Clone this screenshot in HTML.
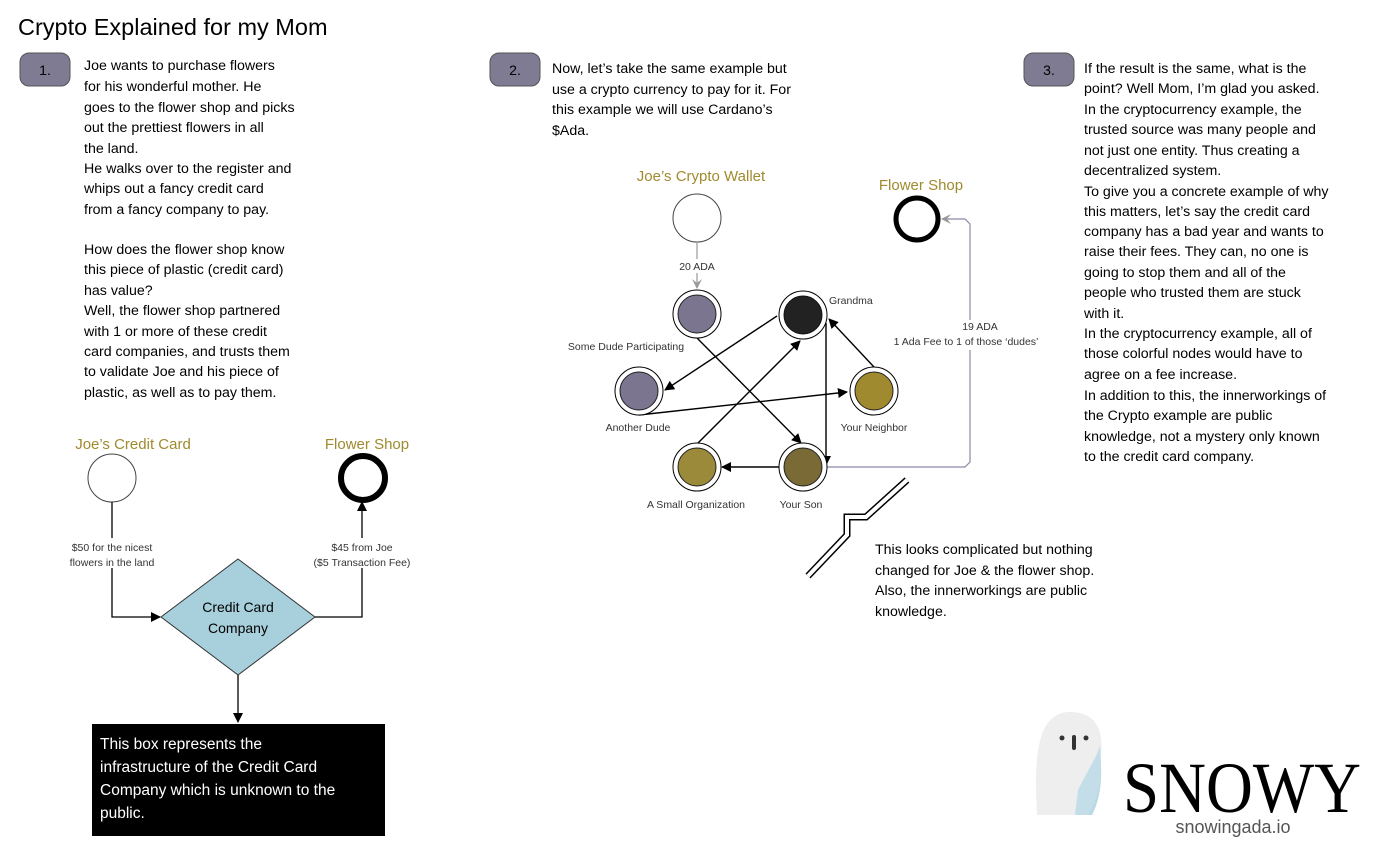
<!DOCTYPE html>
<html><head><meta charset="utf-8"><style>
html,body{margin:0;padding:0;background:#fff;}
svg{display:block;font-family:"Liberation Sans",sans-serif;}
.t{font-size:14.2px;fill:#000;}
.s{font-size:10.5px;fill:#333;}
.g{font-size:15px;fill:#a08a2e;}
</style></head><body>
<svg width="1400" height="848" viewBox="0 0 1400 848">
<defs>
<marker id="ab" markerWidth="10" markerHeight="10" refX="9" refY="5" orient="auto" markerUnits="userSpaceOnUse"><path d="M0,0 L10,5 L0,10 z" fill="#000"/></marker>
<marker id="ag" markerWidth="10" markerHeight="10" refX="9" refY="5" orient="auto" markerUnits="userSpaceOnUse"><path d="M0,0 L10,5 L0,10 L4,5 z" fill="#999"/></marker>
</defs>
<text x="18" y="35" font-size="23.5">Crypto Explained for my Mom</text>

<g><rect x="20" y="53" width="50" height="33" rx="9" fill="#7f7b92" stroke="#555"/><text x="45" y="75" text-anchor="middle" font-size="14">1.</text></g>
<g><rect x="490" y="53" width="50" height="33" rx="9" fill="#7f7b92" stroke="#555"/><text x="515" y="75" text-anchor="middle" font-size="14">2.</text></g>
<g><rect x="1024" y="53" width="50" height="33" rx="9" fill="#7f7b92" stroke="#555"/><text x="1049" y="75" text-anchor="middle" font-size="14">3.</text></g>

<g class="t">
<text x="84" y="70">Joe wants to purchase flowers</text>
<text x="84" y="91">for his wonderful mother. He</text>
<text x="84" y="112">goes to the flower shop and picks</text>
<text x="84" y="132">out the prettiest flowers in all</text>
<text x="84" y="153">the land.</text>
<text x="84" y="173">He walks over to the register and</text>
<text x="84" y="193">whips out a fancy credit card</text>
<text x="84" y="214">from a fancy company to pay.</text>
<text x="84" y="254">How does the flower shop know</text>
<text x="84" y="274">this piece of plastic (credit card)</text>
<text x="84" y="295">has value?</text>
<text x="84" y="315">Well, the flower shop partnered</text>
<text x="84" y="336">with 1 or more of these credit</text>
<text x="84" y="356">card companies, and trusts them</text>
<text x="84" y="376">to validate Joe and his piece of</text>
<text x="84" y="397">plastic, as well as to pay them.</text>
</g>
<g class="t">
<text x="552" y="73">Now, let’s take the same example but</text>
<text x="552" y="94">use a crypto currency to pay for it. For</text>
<text x="552" y="114">this example we will use Cardano’s</text>
<text x="552" y="135">$Ada.</text>
</g>
<g class="t">
<text x="1084" y="73">If the result is the same, what is the</text>
<text x="1084" y="93">point? Well Mom, I’m glad you asked.</text>
<text x="1084" y="114">In the cryptocurrency example, the</text>
<text x="1084" y="134">trusted source was many people and</text>
<text x="1084" y="155">not just one entity. Thus creating a</text>
<text x="1084" y="175">decentralized system.</text>
<text x="1084" y="196">To give you a concrete example of why</text>
<text x="1084" y="216">this matters, let’s say the credit card</text>
<text x="1084" y="236">company has a bad year and wants to</text>
<text x="1084" y="256">raise their fees. They can, no one is</text>
<text x="1084" y="277">going to stop them and all of the</text>
<text x="1084" y="297">people who trusted them are stuck</text>
<text x="1084" y="318">with it.</text>
<text x="1084" y="338">In the cryptocurrency example, all of</text>
<text x="1084" y="358">those colorful nodes would have to</text>
<text x="1084" y="379">agree on a fee increase.</text>
<text x="1084" y="400">In addition to this, the innerworkings of</text>
<text x="1084" y="420">the Crypto example are public</text>
<text x="1084" y="441">knowledge, not a mystery only known</text>
<text x="1084" y="461">to the credit card company.</text>
</g>

<g>
<text x="133" y="449" class="g" text-anchor="middle">Joe’s Credit Card</text>
<text x="367" y="449" class="g" text-anchor="middle">Flower Shop</text>
<circle cx="112" cy="478" r="24" fill="#fff" stroke="#444"/>
<circle cx="363" cy="478" r="22" fill="#fff" stroke="#000" stroke-width="6"/>
<polygon points="238,559 315,617 238,675 161,617" fill="#a7cfdc" stroke="#333"/>
<text x="238" y="612" text-anchor="middle" font-size="14">Credit Card</text>
<text x="238" y="633" text-anchor="middle" font-size="14">Company</text>
<polyline points="112,502 112,617 160,617" fill="none" stroke="#000" stroke-width="1.3" marker-end="url(#ab)"/>
<polyline points="315,617 362,617 362,502" fill="none" stroke="#000" stroke-width="1.3" marker-end="url(#ab)"/>
<line x1="238" y1="675" x2="238" y2="722" stroke="#000" stroke-width="1.3" marker-end="url(#ab)"/>
<rect x="104" y="538" width="16" height="30" fill="#fff"/>
<rect x="354" y="538" width="16" height="30" fill="#fff"/>
<text x="112" y="551" class="s" text-anchor="middle">$50 for the nicest</text>
<text x="112" y="566" class="s" text-anchor="middle">flowers in the land</text>
<text x="362" y="551" class="s" text-anchor="middle">$45 from Joe</text>
<text x="362" y="566" class="s" text-anchor="middle">($5 Transaction Fee)</text>
<rect x="92" y="724" width="293" height="112" fill="#000"/>
<g fill="#fff" font-size="15.5">
<text x="100" y="749">This box represents the</text>
<text x="100" y="772">infrastructure of the Credit Card</text>
<text x="100" y="795">Company which is unknown to the</text>
<text x="100" y="818">public.</text>
</g>
</g>

<g>
<text x="701" y="181" class="g" text-anchor="middle">Joe’s Crypto Wallet</text>
<text x="921" y="190" class="g" text-anchor="middle">Flower Shop</text>
<circle cx="697" cy="218" r="24" fill="#fff" stroke="#444"/>
<circle cx="917" cy="219" r="21" fill="#fff" stroke="#000" stroke-width="5"/>
<line x1="697" y1="242" x2="697" y2="288" stroke="#999" stroke-width="1.2" marker-end="url(#ag)"/>
<rect x="675" y="259" width="44" height="14" fill="#fff"/>
<text x="697" y="270" class="s" text-anchor="middle">20 ADA</text>
<polyline points="827,467 965,467 970,462 970,224 965,219 942,219" fill="none" stroke="#8a8aa8" stroke-width="1.2" marker-end="url(#ag)"/>
<rect x="895" y="320" width="150" height="30" fill="#fff"/>
<text x="980" y="330" class="s" text-anchor="middle">19 ADA</text>
<text x="966" y="345" class="s" text-anchor="middle">1 Ada Fee to 1 of those ‘dudes’</text>
<g stroke="#000" stroke-width="1.4" fill="none">
<line x1="697" y1="338" x2="801" y2="443" marker-end="url(#ab)"/>
<line x1="777" y1="316" x2="665" y2="390" marker-end="url(#ab)"/>
<line x1="639" y1="415" x2="847" y2="392" marker-end="url(#ab)"/>
<line x1="697" y1="444" x2="800" y2="341" marker-end="url(#ab)"/>
<line x1="874" y1="367" x2="829" y2="319" marker-end="url(#ab)"/>
<line x1="826" y1="323" x2="826" y2="465" marker-end="url(#ab)"/>
<line x1="780" y1="467" x2="722" y2="467" marker-end="url(#ab)"/>
</g>
<g stroke="#000" stroke-width="1" fill="#fff">
<circle cx="697" cy="314" r="24"/><circle cx="803" cy="315" r="24"/>
<circle cx="639" cy="391" r="24"/><circle cx="874" cy="391" r="24"/>
<circle cx="697" cy="467" r="24"/><circle cx="803" cy="467" r="24"/>
</g>
<circle cx="697" cy="314" r="19" fill="#7b7590" stroke="#222"/>
<circle cx="803" cy="315" r="19" fill="#222" stroke="#111"/>
<circle cx="639" cy="391" r="19" fill="#7b7590" stroke="#222"/>
<circle cx="874" cy="391" r="19" fill="#a08a30" stroke="#222"/>
<circle cx="697" cy="467" r="19" fill="#9b8a3a" stroke="#222"/>
<circle cx="803" cy="467" r="19" fill="#7a6a36" stroke="#222"/>
<text x="829" y="304" class="s">Grandma</text>
<text x="626" y="350" class="s" text-anchor="middle">Some Dude Participating</text>
<text x="638" y="431" class="s" text-anchor="middle">Another Dude</text>
<text x="874" y="431" class="s" text-anchor="middle">Your Neighbor</text>
<text x="696" y="508" class="s" text-anchor="middle">A Small Organization</text>
<text x="801" y="508" class="s" text-anchor="middle">Your Son</text>
<polyline points="907,480 866,517 847,517 847,535 808,576" fill="none" stroke="#000" stroke-width="7" stroke-linejoin="miter"/>
<polyline points="907,480 866,517 847,517 847,535 808,576" fill="none" stroke="#fff" stroke-width="4" stroke-linejoin="miter"/>
</g>
<g class="t">
<text x="875" y="554">This looks complicated but nothing</text>
<text x="875" y="575">changed for Joe &amp; the flower shop.</text>
<text x="875" y="595">Also, the innerworkings are public</text>
<text x="875" y="616">knowledge.</text>
</g>

<g>
<path d="M1037,815 C1034,760 1036,712 1070,712 C1102,712 1104,740 1100,760 C1098,790 1095,800 1092,815 Z" fill="#eeeeee"/>
<path d="M1100,750 C1102,780 1095,805 1075,815 L1092,815 C1100,800 1103,780 1100,750 Z" fill="#b9d9e4"/>
<path d="M1078,790 C1088,770 1098,755 1100,745 C1103,780 1098,800 1088,815 L1075,815 Z" fill="#c3dee8"/>
<circle cx="1062" cy="738" r="2.5" fill="#333"/><circle cx="1086" cy="738" r="2.5" fill="#333"/>
<rect x="1072" y="735" width="4" height="15" rx="2" fill="#333"/>
<text x="1242" y="812" text-anchor="middle" font-family="Liberation Serif, serif" font-size="72" textLength="238" lengthAdjust="spacingAndGlyphs">SNOWY</text>
<text x="1233" y="833" text-anchor="middle" font-size="18" fill="#555">snowingada.io</text>
</g>
</svg>
</body></html>
